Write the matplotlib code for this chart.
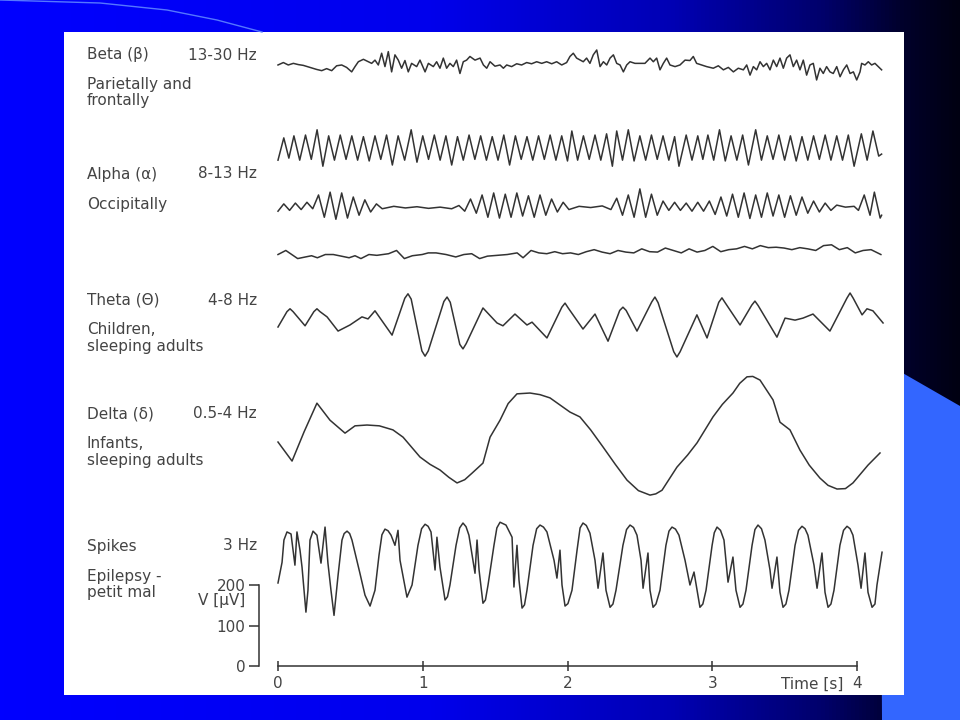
import numpy as np
import matplotlib
matplotlib.use("Agg")
import matplotlib.pyplot as plt
from matplotlib.colors import LinearSegmentedColormap
from matplotlib.patches import Rectangle, Polygon

# ---- traces: time [s] and amplitude [uV] around each trace's own baseline
beta_t = [0.000, 0.037, 0.071, 0.106, 0.140, 0.175, 0.267, 0.302, 0.336, 0.371, 0.405, 0.440, 0.474, 0.509,
          0.532, 0.555, 0.590, 0.624, 0.647, 0.670, 0.693, 0.716, 0.739, 0.762, 0.785, 0.808, 0.831, 0.854,
          0.877, 0.900, 0.923, 0.958, 0.981, 1.016, 1.039, 1.073, 1.096, 1.119, 1.142, 1.165, 1.188, 1.211,
          1.234, 1.257, 1.280, 1.303, 1.326, 1.361, 1.396, 1.419, 1.442, 1.465, 1.499, 1.534, 1.557, 1.580,
          1.614, 1.649, 1.683, 1.718, 1.752, 1.787, 1.822, 1.856, 1.891, 1.925, 1.960, 1.994, 2.017, 2.040,
          2.063, 2.109, 2.132, 2.155, 2.178, 2.202, 2.225, 2.248, 2.271, 2.294, 2.317, 2.340, 2.363, 2.386,
          2.409, 2.432, 2.466, 2.501, 2.535, 2.570, 2.593, 2.616, 2.639, 2.662, 2.685, 2.708, 2.743, 2.777,
          2.812, 2.846, 2.869, 2.892, 2.927, 2.961, 3.007, 3.042, 3.077, 3.111, 3.146, 3.180, 3.215, 3.238,
          3.261, 3.284, 3.307, 3.330, 3.353, 3.376, 3.399, 3.422, 3.445, 3.468, 3.491, 3.514, 3.537, 3.560,
          3.583, 3.606, 3.629, 3.652, 3.675, 3.698, 3.721, 3.744, 3.767, 3.790, 3.813, 3.836, 3.860, 3.883,
          3.906, 3.929, 3.952, 3.975, 3.998, 4.021, 4.032, 4.055, 4.078, 4.101, 4.124, 4.170]
beta_v = [0, 6, 0, 4, 1, -1, -11, -14, -9, -14, -2, 0, -6, -17,
          -4, 8, 14, 8, 4, 12, 0, 29, -4, 33, -17, 25, 12, -8,
          11, -17, 4, -4, 12, -17, 4, -4, 8, -8, 17, -8, 4, -4,
          12, -21, 8, 12, 21, 12, 17, 0, -8, 8, -3, 0, -8, 0,
          -4, 3, 0, 6, 3, 8, 4, 8, 3, 8, 0, 6, 21, 29,
          17, 8, 17, 4, 25, 37, -4, 8, 0, 17, 25, 4, 0, -17,
          0, 8, 4, 4, 4, 17, 8, 17, -12, 4, 17, 0, -4, 0,
          12, 11, 21, 4, 0, -4, -8, -2, -12, -6, -17, -8, -12, 0,
          -25, -4, -12, 8, -4, 4, -12, 12, -4, 17, -8, 17, 25, -4,
          12, -12, 12, -25, 0, 4, -37, -8, -21, -4, -17, -21, -4, -29,
          -12, 0, -21, -17, -37, -17, 4, 0, 8, 0, 4, -12]

alpha1_t = [0.000, 0.040, 0.075, 0.110, 0.150, 0.190, 0.230, 0.270, 0.310, 0.350, 0.390, 0.430, 0.470, 0.510,
            0.550, 0.590, 0.630, 0.670, 0.710, 0.750, 0.790, 0.830, 0.875, 0.920, 0.960, 1.000, 1.040, 1.080,
            1.120, 1.160, 1.200, 1.240, 1.280, 1.320, 1.360, 1.400, 1.440, 1.480, 1.520, 1.560, 1.600, 1.640,
            1.680, 1.720, 1.760, 1.800, 1.840, 1.880, 1.920, 1.960, 2.000, 2.030, 2.070, 2.110, 2.150, 2.190,
            2.230, 2.270, 2.310, 2.340, 2.380, 2.420, 2.460, 2.500, 2.540, 2.580, 2.620, 2.660, 2.700, 2.740,
            2.770, 2.820, 2.860, 2.900, 2.935, 2.970, 3.010, 3.050, 3.090, 3.130, 3.170, 3.210, 3.250, 3.300,
            3.340, 3.380, 3.420, 3.460, 3.500, 3.540, 3.580, 3.620, 3.660, 3.700, 3.740, 3.780, 3.820, 3.860,
            3.900, 3.940, 3.980, 4.030, 4.070, 4.110, 4.150, 4.170]
alpha1_v = [-30, 25, -25, 30, -30, 32, -28, 45, -45, 30, -30, 32, -28, 30,
            -30, 28, -32, 30, -28, 32, -42, 30, -30, 45, -35, 30, -28, 32,
            -30, 30, -42, 28, -30, 32, -28, 30, -30, 28, -30, 32, -42, 30,
            -28, 28, -30, 30, -28, 32, -30, 30, -32, 42, -30, 30, -28, 32,
            -30, 35, -45, 42, -30, 45, -32, 30, -30, 32, -28, 30, -30, 28,
            -45, 32, -30, 30, -28, 32, -30, 45, -32, 30, -30, 32, -42, 45,
            -30, 30, -28, 32, -30, 30, -32, 28, -30, 30, -28, 32, -30, 30,
            -30, 32, -45, 35, -30, 42, -20, -15]

alpha2_t = [0.00, 0.04, 0.08, 0.12, 0.16, 0.20, 0.24, 0.28, 0.32, 0.36, 0.40, 0.44, 0.48, 0.52,
            0.56, 0.60, 0.64, 0.68, 0.72, 0.80, 0.88, 0.96, 1.04, 1.12, 1.20, 1.25, 1.29, 1.33,
            1.37, 1.41, 1.45, 1.49, 1.53, 1.57, 1.61, 1.65, 1.69, 1.73, 1.77, 1.81, 1.85, 1.89,
            1.93, 1.97, 2.01, 2.08, 2.16, 2.24, 2.30, 2.34, 2.38, 2.42, 2.46, 2.50, 2.54, 2.58,
            2.62, 2.66, 2.70, 2.74, 2.78, 2.82, 2.86, 2.90, 2.94, 2.98, 3.02, 3.06, 3.10, 3.14,
            3.18, 3.22, 3.26, 3.30, 3.34, 3.38, 3.42, 3.46, 3.50, 3.54, 3.58, 3.62, 3.66, 3.70,
            3.74, 3.78, 3.82, 3.86, 3.92, 3.98, 4.01, 4.05, 4.09, 4.12, 4.16, 4.17]
alpha2_v = [-10, 8, -8, 10, -6, 12, -4, 30, -25, 37, -30, 35, -27, 25,
            -20, 18, -12, 8, -4, 2, -2, 1, -3, 0, -4, 4, -10, 20,
            -15, 30, -25, 35, -27, 32, -25, 35, -22, 28, -25, 30, -20, 20,
            -12, 12, -6, 2, -1, 3, -6, 22, -20, 30, -25, 45, -25, 32,
            -20, 15, -8, 12, -8, 10, -10, 12, -10, 15, -18, 25, -22, 32,
            -25, 35, -28, 30, -25, 35, -22, 30, -25, 28, -20, 25, -15, 15,
            -12, 10, -8, 5, 0, 2, -8, 30, -20, 37, -27, -20]

alpha3_t = [0.000, 0.054, 0.095, 0.136, 0.190, 0.232, 0.272, 0.327, 0.382, 0.437, 0.491, 0.532, 0.573, 0.628,
            0.683, 0.764, 0.819, 0.873, 0.928, 0.996, 1.038, 1.092, 1.161, 1.228, 1.284, 1.338, 1.393, 1.447,
            1.516, 1.584, 1.652, 1.693, 1.748, 1.802, 1.857, 1.912, 1.966, 2.021, 2.075, 2.130, 2.184, 2.239,
            2.294, 2.349, 2.403, 2.458, 2.513, 2.567, 2.622, 2.676, 2.731, 2.786, 2.840, 2.895, 2.949, 3.004,
            3.059, 3.114, 3.168, 3.223, 3.277, 3.332, 3.387, 3.441, 3.496, 3.550, 3.605, 3.660, 3.715, 3.769,
            3.824, 3.878, 3.933, 3.988, 4.042, 4.097, 4.165]
alpha3_v = [-6, 4, -6, -16, -12, -9, -14, -6, -6, -10, -14, -9, -16, -6,
            -8, -4, 4, -16, -9, -6, -2, -2, -6, -12, -6, -4, -16, -10,
            -8, -6, -2, -14, 4, -2, -4, 1, -4, -2, -6, 1, 6, 0,
            -4, 4, 0, -2, 8, 1, 0, 10, 4, -2, 8, 0, 4, 14,
            1, 6, 8, 14, 8, 16, 11, 12, 10, 6, 11, 8, 4, 16,
            18, 6, 11, -2, 4, 6, -6]

theta_t = [0.000, 0.062, 0.083, 0.104, 0.187, 0.248, 0.269, 0.290, 0.339, 0.415, 0.497, 0.580, 0.622, 0.670,
           0.788, 0.876, 0.898, 0.920, 0.994, 1.016, 1.038, 1.146, 1.168, 1.190, 1.256, 1.278, 1.300, 1.416,
           1.513, 1.554, 1.637, 1.720, 1.755, 1.858, 1.961, 1.983, 2.005, 2.107, 2.190, 2.280, 2.361, 2.383,
           2.405, 2.480, 2.582, 2.604, 2.626, 2.734, 2.756, 2.778, 2.894, 2.964, 3.045, 3.067, 3.089, 3.192,
           3.273, 3.295, 3.317, 3.447, 3.503, 3.572, 3.627, 3.696, 3.813, 3.930, 3.952, 3.974, 4.035, 4.069,
           4.110, 4.180]
theta_v = [-5, 33, 40, 33, -2, 33, 40, 33, 20, -15, 0, 20, 15, 35,
           -25, 66, 77, 64, -64, -77, -64, 58, 69, 56, -48, -59, -46, 42,
           5, -2, 27, 0, 7, -32, 44, 54, 42, -10, 27, -40, 36, 44,
           36, -15, 57, 69, 55, -66, -79, -66, 25, -32, 56, 67, 55, 0,
           49, 59, 48, -30, 17, 12, 17, 27, -15, 66, 79, 66, 25, 40,
           35, 5]

delta_t = [0.000, 0.097, 0.180, 0.269, 0.359, 0.463, 0.532, 0.615, 0.700, 0.794, 0.864, 0.981, 1.050, 1.119,
           1.180, 1.237, 1.290, 1.340, 1.416, 1.465, 1.534, 1.590, 1.651, 1.741, 1.810, 1.879, 2.017, 2.086,
           2.160, 2.245, 2.330, 2.411, 2.490, 2.570, 2.610, 2.653, 2.756, 2.830, 2.895, 2.950, 3.005, 3.070,
           3.143, 3.190, 3.240, 3.280, 3.330, 3.420, 3.468, 3.537, 3.606, 3.670, 3.744, 3.800, 3.862, 3.920,
           3.972, 4.076, 4.159]
delta_v = [-5, -52, 20, 91, 49, 17, 35, 37, 35, 25, 7, -42, -60, -74,
           -92, -106, -98, -82, -57, 7, 49, 90, 114, 116, 112, 104, 69, 57,
           25, -17, -60, -99, -125, -136, -133, -124, -67, -37, -7, 25, 57, 88,
           116, 140, 156, 157, 148, 99, 44, 25, -25, -62, -94, -112, -121, -120,
           -106, -62, -32]

spike_t = [0.000, 0.028, 0.041, 0.062, 0.090, 0.117, 0.131, 0.152, 0.166, 0.193, 0.207, 0.221, 0.242, 0.269,
           0.297, 0.311, 0.325, 0.345, 0.366, 0.387, 0.415, 0.442, 0.457, 0.477, 0.495, 0.511, 0.566, 0.601,
           0.636, 0.670, 0.698, 0.718, 0.739, 0.760, 0.781, 0.808, 0.829, 0.843, 0.891, 0.926, 0.967, 0.992,
           1.016, 1.037, 1.057, 1.085, 1.098, 1.119, 1.154, 1.171, 1.188, 1.230, 1.255, 1.278, 1.299, 1.319,
           1.361, 1.375, 1.389, 1.416, 1.433, 1.451, 1.492, 1.512, 1.534, 1.575, 1.617, 1.630, 1.651, 1.665,
           1.686, 1.703, 1.720, 1.762, 1.787, 1.810, 1.834, 1.858, 1.907, 1.927, 1.948, 1.962, 1.983, 2.003,
           2.031, 2.066, 2.087, 2.107, 2.130, 2.155, 2.190, 2.211, 2.245, 2.266, 2.294, 2.314, 2.335, 2.383,
           2.408, 2.432, 2.456, 2.480, 2.508, 2.522, 2.556, 2.570, 2.591, 2.611, 2.639, 2.680, 2.701, 2.722,
           2.746, 2.770, 2.812, 2.846, 2.874, 2.895, 2.915, 2.935, 2.957, 2.999, 3.014, 3.033, 3.057, 3.081,
           3.109, 3.143, 3.164, 3.192, 3.212, 3.233, 3.275, 3.295, 3.316, 3.340, 3.364, 3.399, 3.413, 3.447,
           3.468, 3.489, 3.509, 3.530, 3.572, 3.596, 3.620, 3.641, 3.661, 3.703, 3.724, 3.758, 3.779, 3.800,
           3.820, 3.841, 3.882, 3.907, 3.931, 3.952, 3.972, 4.007, 4.028, 4.055, 4.076, 4.104, 4.124, 4.138,
           4.173]
spike_v = [-44, 7, 62, 82, 77, 0, 82, 37, -5, -116, -62, 62, 84, 74,
           5, 49, 94, 5, -62, -124, -25, 62, 78, 84, 78, 62, -20, -74,
           -101, -62, 25, 75, 89, 85, 74, 49, 86, 12, -79, -49, 49, 90,
           101, 96, 82, -12, 69, -5, -86, -78, -49, 49, 92, 104, 95, 74,
           -20, 62, -12, -94, -86, -49, 49, 92, 106, 99, 69, -54, 49, -37,
           -106, -98, -62, 49, 90, 99, 94, 82, 12, -32, 37, -49, -101, -95,
           -62, 37, 92, 104, 98, 79, 12, -57, 30, -62, -104, -96, -62, 49,
           88, 99, 93, 74, 12, -57, 30, -62, -104, -96, -62, 49, 84, 94,
           89, 74, 12, -49, -17, -62, -104, -96, -62, 49, 80, 94, 86, 62,
           -42, 20, -62, -104, -96, -62, 49, 88, 99, 90, 62, -12, -57, 20,
           -67, -104, -96, -62, 49, 86, 96, 90, 74, 0, -57, 30, -67, -104,
           -96, -62, 49, 86, 96, 90, 74, 0, -57, 30, -67, -104, -96, -49,
           32]

band_names = ["Beta (β)", "Alpha (α)", "Theta (Θ)", "Delta (δ)", "Spikes"]
band_freqs = ["13-30 Hz", "8-13 Hz", "4-8 Hz", "0.5-4 Hz", "3 Hz"]
band_sites = [["Parietally and", "frontally"], ["Occipitally"], ["Children,", "sleeping adults"],
              ["Infants,", "sleeping adults"], ["Epilepsy -", "petit mal"]]
time_ticks = [0, 1, 2, 3, 4]
volt_ticks = [0, 100, 200]

# ---- layout (pixels of the 960x720 slide)
W, H = 960, 720
x0, y0 = 278, 666              # pixel of t=0, V=0
px_s, px_uv = 144.75, 0.405    # pixels per second / per uV
trace_base = [1484, 1279, 1133, 1022, 842, 558, 249]   # baseline of each trace, uV
name_y = [55, 174, 300, 414, 546]
site_y = [[84, 101], [205], [330, 346], [443, 461], [577, 592]]
ink = "#333333"
txt = "#444444"
fs = 11

fig = plt.figure(figsize=(9.6, 7.2), dpi=100)

# slide background
bg = fig.add_axes([0, 0, 1, 1])
bg.set_xlim(0, W)
bg.set_ylim(H, 0)
bg.axis("off")
slide = LinearSegmentedColormap.from_list(
    "slide", [(0, "#0000ff"), (0.45, "#0000ec"), (0.7, "#0000b4"), (0.86, "#00006a"),
              (0.94, "#00002c"), (1, "#000012")])
bg.imshow(np.linspace(0, 1, 256)[None, :], cmap=slide, aspect="auto", extent=(0, W, H, 0))
bg.add_patch(Polygon([(880, 360), (960, 406), (960, 720), (882, 720)], color="#3366ff", lw=0))
bg.plot([0, 100, 167, 217, 262], [0, 3, 10, 20, 32], color="#5577ff", lw=1)
bg.add_patch(Rectangle((64, 32), 840, 663, color="white", lw=0))

# chart
ax = fig.add_axes([0, 0, 1, 1])
ax.patch.set_visible(False)
ax.set_xlim(-x0 / px_s, (W - x0) / px_s)
ax.set_ylim((y0 - H) / px_uv, y0 / px_uv)

traces = [(beta_t, beta_v), (alpha1_t, alpha1_v), (alpha2_t, alpha2_v), (alpha3_t, alpha3_v),
          (theta_t, theta_v), (delta_t, delta_v), (spike_t, spike_v)]
for (t, v), base in zip(traces, trace_base):
    ax.plot(t, np.array(v) + base, color=ink, lw=1.1, solid_joinstyle="round")

for s in ("top", "right"):
    ax.spines[s].set_visible(False)
ax.spines["left"].set_position(("data", -0.13))
ax.spines["left"].set_bounds(0, 200)
ax.spines["bottom"].set_position(("data", 0))
ax.spines["bottom"].set_bounds(0, 4)
for s in ("left", "bottom"):
    ax.spines[s].set_color(ink)
    ax.spines[s].set_linewidth(1.1)
ax.set_xticks(time_ticks)
ax.set_yticks(volt_ticks)
ax.tick_params(axis="x", direction="inout", length=7, width=1.1, pad=4, labelsize=fs,
               color=ink, labelcolor=txt)
ax.tick_params(axis="y", direction="out", length=7, width=1.1, pad=3, labelsize=fs,
               color=ink, labelcolor=txt)

def ftext(x, y, s, **kw):
    fig.text(x / W, 1 - y / H, s, fontsize=fs, color=txt, va="center", **kw)

for name, freq, sites, ny, sy in zip(band_names, band_freqs, band_sites, name_y, site_y):
    ftext(87, ny, name, ha="left")
    ftext(257, ny, freq, ha="right")
    for line, ly in zip(sites, sy):
        ftext(87, ly, line, ha="left")

ftext(245, 600, "V [µV]", ha="right")
ftext(843, 684, "Time [s]", ha="right")

fig.savefig("out.png", dpi=100)
